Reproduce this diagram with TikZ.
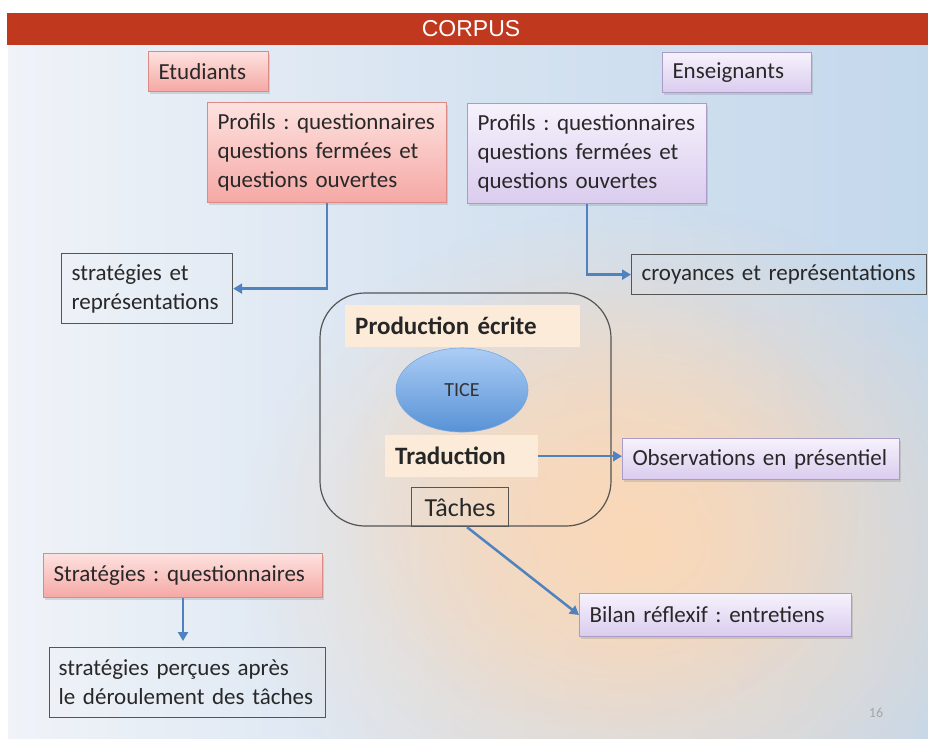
\documentclass[tikz,border=0pt]{standalone}
\usepackage{fontspec}
\setmainfont{Carlito}
\newfontfamily\titlefont{Liberation Sans}
\usetikzlibrary{shapes.geometric,arrows.meta,shadows,fadings}
\frenchspacing

\definecolor{barred}{RGB}{192,56,30}
\definecolor{bgleft}{RGB}{240,243,248}
\definecolor{bgright}{RGB}{196,216,236}
\definecolor{peach}{RGB}{250,216,184}
\definecolor{txt}{RGB}{40,40,40}
\definecolor{pinktop}{RGB}{253,226,224}
\definecolor{pinkbot}{RGB}{245,168,164}
\definecolor{pinkline}{RGB}{222,138,132}
\definecolor{lavtop}{RGB}{246,242,252}
\definecolor{lavbot}{RGB}{218,204,238}
\definecolor{lavline}{RGB}{170,155,200}
\definecolor{framegray}{RGB}{85,85,85}
\definecolor{labelbg}{RGB}{253,235,218}
\definecolor{ticetop}{RGB}{172,205,245}
\definecolor{ticebot}{RGB}{88,146,214}
\definecolor{arrowblue}{RGB}{80,130,192}

\tikzfading[name=softglow, inner color=transparent!0, outer color=transparent!100]

\newcommand{\bodyfont}{\fontsize{23}{29}\selectfont}

\tikzset{
  box/.style={rectangle, anchor=north west, inner xsep=10pt, inner ysep=0pt,
    align=left, font=\bodyfont, text=txt},
  pinkbox/.style={box, draw=pinkline, line width=1pt, top color=pinktop, bottom color=pinkbot,
    drop shadow={opacity=0.25, shadow xshift=1.5pt, shadow yshift=-2pt}},
  lavbox/.style={box, draw=lavline, line width=1pt, top color=lavtop, bottom color=lavbot,
    drop shadow={opacity=0.25, shadow xshift=1.5pt, shadow yshift=-2pt}},
  plainbox/.style={box, draw=framegray, line width=1.2pt},
  labelbox/.style={box, fill=labelbg, font=\fontsize{25}{29}\selectfont\bfseries, text=black!85},
  arr/.style={draw=arrowblue, line width=2.5pt, -{Triangle[length=9pt,width=10pt]}},
}

\begin{document}
\begin{tikzpicture}[x=1pt,y=-1pt]
\useasboundingbox (0,0) rectangle (928,740);
\fill[white] (0,0) rectangle (928,740);

% slide background
\shade[left color=bgleft, right color=bgright, middle color=bgright!60!bgleft]
  (8,45) rectangle (928,738);
\begin{scope}
  \clip (8,45) rectangle (928,738);
  \fill[peach, path fading=softglow] (640,545) ellipse (400 and 340);
  \fill[peach, path fading=softglow, opacity=0.8] (600,500) ellipse (260 and 230);
\end{scope}

% title bar
\fill[barred] (7,13) rectangle (928,45);
\node[font=\titlefont\fontsize{23}{23}\selectfont, text=white] (title) at (471,29) {CORPUS};

% group headers
\node[pinkbox, text width=100pt, minimum height=40pt] (etud) at (148,51) {Etudiants};
\node[lavbox, text width=129pt, minimum height=40pt] (ens) at (662,52) {Enseignants};

% profile questionnaires
\node[pinkbox, text width=219pt, minimum height=100pt] (prof1) at (207,102)
  {Profils : questionnaires\\questions fermées et\\questions ouvertes};
\node[lavbox, text width=219pt, minimum height=100pt] (prof2) at (467,103)
  {Profils : questionnaires\\questions fermées et\\questions ouvertes};

% outcomes of the profiles
\node[plainbox, text width=151pt, minimum height=70pt] (strat1) at (61,253)
  {stratégies et\\représentations};
\node[plainbox, text width=275pt, minimum height=40pt] (croy) at (631,254)
  {croyances et représentations};

% tasks frame
\draw[framegray, line width=1.2pt, rounded corners=45pt] (320,293) rectangle (611,526);
\node[labelbox, text width=215pt, minimum height=42pt] (prod) at (345,305) {Production écrite};
\node[ellipse, minimum width=132pt, minimum height=84pt, top color=ticetop, bottom color=ticebot,
  draw=ticebot!80!white, line width=0.6pt, font=\fontsize{20}{20}\selectfont, text=black!80]
  (tice) at (462,390) {TICE};
\node[labelbox, text width=133pt, minimum height=42pt] (trad) at (385,435) {Traduction};
\node[plainbox, align=center, text width=77pt, minimum height=39pt,
  font=\fontsize{26}{29}\selectfont] (taches) at (411,487) {Tâches};

% observation and review
\node[lavbox, text width=257pt, minimum height=41pt] (obs) at (622,438) {Observations en présentiel};
\node[lavbox, text width=252pt, minimum height=43pt] (bilan) at (579,593) {Bilan réflexif : entretiens};

% strategies questionnaire
\node[pinkbox, text width=259pt, minimum height=44pt] (stratq) at (43,553) {Stratégies : questionnaires};
\node[plainbox, inner xsep=9pt, text width=258pt, minimum height=70pt] (perc) at (49,647)
  {stratégies perçues après\\le déroulement des tâches};

% page number
\node[font=\fontsize{14}{14}\selectfont, text=black!35] (pnum) at (876,713) {16};

% connectors
\draw[arr] (prof1.south) |- (strat1.east);
\draw[arr] (prof2.south) |- (croy.west);
\draw[arr] (trad.east) -- (trad.east -| obs.west);
\draw[arr] ([xshift=7pt]taches.south) -- (bilan.west);
\draw[arr, shorten >=6pt] (stratq.south) -- (stratq.south |- perc.north);
\end{tikzpicture}
\end{document}
